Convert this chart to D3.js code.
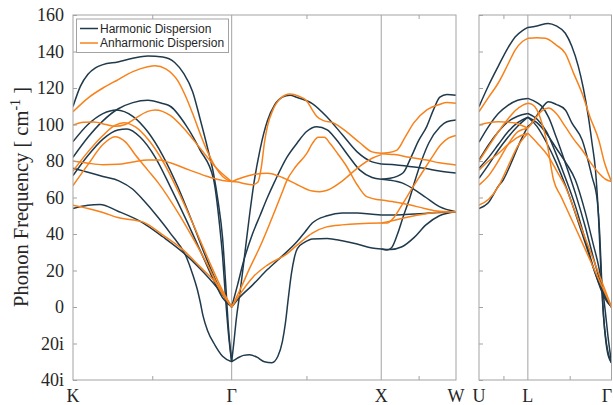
<!DOCTYPE html>
<html><head><meta charset="utf-8">
<script src="https://cdn.jsdelivr.net/npm/d3@7"></script>
<style>body{margin:0;background:#fff}svg{display:block}</style>
</head><body><svg id="c" width="613" height="405"></svg>
<script>
// ---------- tick / label data ----------
const yTicks = [-40,-20,0,20,40,60,80,100,120,140,160];
const yTickLabels = ["40i","20i","0","20","40","60","80","100","120","140","160"];
const leftLabels = ["K","Γ","X","W"];
const leftLabelPos = [0,1.061,2.061,2.561];
const rightLabels = ["U","L","Γ"];
const rightLabelPos = [0,0.506,1.372];
const leftMinorTicks = [0.53,1.561,2.311];
const rightMinorTicks = [0.253,0.939];
const legendNames = ["Harmonic Dispersion","Anharmonic Dispersion"];

// ---------- harmonic bands, K -> Gamma ----------
const harmonicKG = [
 [[0,109.8],[0.05,121],[0.1,127.5],[0.15,131],[0.2,132.8],[0.3,134.3],[0.4,136.3],[0.5,137.5],[0.6,137],[0.68,134],[0.74,128],[0.8,118],[0.85,103],[0.9,87],[0.94,73],[0.97,58],[1.0,38],[1.02,14],[1.04,-12],[1.061,-30]],
 [[0,90.6],[0.1,100],[0.2,106],[0.29,108],[0.4,104.5],[0.5,96],[0.6,83],[0.7,66],[0.8,46],[0.9,25],[1.0,7],[1.061,0]],
 [[0,82],[0.1,93],[0.2,102],[0.3,108.5],[0.4,112],[0.5,113.3],[0.6,111.5],[0.65,110],[0.76,99],[0.85,86],[0.94,70],[0.98,45],[1.0,28],[1.02,5],[1.04,-15],[1.061,-30]],
 [[0,76],[0.1,73.8],[0.2,71.5],[0.31,69],[0.4,64.5],[0.47,58.6],[0.56,50],[0.65,40.5],[0.76,27],[0.8,18],[0.83,10],[0.85,3],[0.87,-5],[0.9,-13],[0.95,-21],[1.0,-27],[1.061,-30]],
 [[0,72],[0.1,83],[0.2,92],[0.3,97],[0.36,97.5],[0.45,93],[0.55,82],[0.65,66],[0.75,49],[0.85,31],[0.95,13],[1.0,5],[1.061,0]],
 [[0,54],[0.1,55.8],[0.18,56.2],[0.3,52.5],[0.47,46],[0.6,38.5],[0.74,29.6],[0.85,21],[0.96,11],[1.061,0]]
];
// ---------- harmonic bands, Gamma -> X ----------
const harmonicGX = [
 [[1.061,-30],[1.075,-20],[1.09,-8],[1.12,10],[1.15,30],[1.18,50],[1.21,68],[1.25,86],[1.3,102],[1.35,111],[1.4,115],[1.45,116],[1.5,114.8],[1.6,111.5],[1.7,104],[1.8,94.5],[1.9,85],[2.0,79.5],[2.061,78.4]],
 [[1.061,-30],[1.1,-28],[1.14,-26.5],[1.18,-26.2],[1.23,-27.5],[1.28,-30],[1.33,-30.5],[1.37,-27],[1.4,-19],[1.42,-9],[1.44,5],[1.46,18],[1.48,27],[1.5,32],[1.55,35.5],[1.6,37.3],[1.7,37.6],[1.8,36.3],[1.9,34.5],[2.0,32.3],[2.061,31.8]],
 [[1.061,0],[1.1,4],[1.2,12],[1.3,20.5],[1.4,28],[1.5,36],[1.55,41],[1.6,46],[1.7,50],[1.8,51.5],[1.9,51.5],[2.0,50.8],[2.061,50.4]],
 [[1.061,0],[1.1,12],[1.137,24],[1.2,40],[1.25,50],[1.3,60],[1.35,69],[1.43,82],[1.5,90],[1.56,96],[1.63,98.8],[1.7,97],[1.763,91.5],[1.84,83],[1.918,75],[2.0,71],[2.061,70]]
];
// ---------- harmonic bands, X -> W ----------
const harmonicXW = [
 [[2.061,78.4],[2.15,78],[2.25,77],[2.35,76],[2.45,74.5],[2.561,73.4]],
 [[2.061,70],[2.12,70.5],[2.206,73.4],[2.26,82],[2.31,91],[2.366,99],[2.41,108],[2.453,115],[2.5,116.5],[2.561,116]],
 [[2.061,31.8],[2.1,31.3],[2.13,32.5],[2.17,40],[2.21,50],[2.253,60],[2.286,69],[2.33,80],[2.38,90],[2.453,98.6],[2.5,101.5],[2.561,102.5]],
 [[2.061,50.4],[2.15,50.4],[2.25,50.8],[2.35,51.3],[2.45,51.8],[2.561,52.2]],
 [[2.061,31.8],[2.12,31.5],[2.2,33],[2.28,38],[2.36,45],[2.45,50],[2.561,52.2]],
 [[2.061,70],[2.12,69.5],[2.2,68],[2.28,64.5],[2.36,60],[2.45,55],[2.561,52.2]]
];
// ---------- anharmonic bands, K -> Gamma ----------
const anharmonicKG = [
 [[0,107],[0.1,114.5],[0.2,120],[0.3,124.5],[0.4,129],[0.5,131.7],[0.55,132.2],[0.62,130.5],[0.7,124],[0.75,116],[0.8,106],[0.85,95],[0.9,85],[0.95,77],[1.0,71.5],[1.061,68.7]],
 [[0,99.7],[0.07,101.3],[0.14,101.4],[0.22,100],[0.28,99],[0.35,100],[0.42,103.5],[0.5,107.2],[0.55,108],[0.65,105],[0.74,98],[0.85,87],[0.96,76],[1.061,68.7]],
 [[0,74.5],[0.1,85],[0.2,94],[0.28,99.5],[0.34,101],[0.42,98.5],[0.5,92],[0.6,80],[0.7,64],[0.8,46],[0.9,27],[1.0,9],[1.061,0]],
 [[0,80],[0.1,78.8],[0.2,78],[0.3,78.2],[0.4,79.5],[0.5,80.5],[0.58,80.5],[0.65,79],[0.78,75],[0.92,71],[1.0,69.3],[1.061,68.7]],
 [[0,66.5],[0.1,78],[0.2,89],[0.28,93.3],[0.35,90.5],[0.42,83],[0.5,75],[0.57,68],[0.7,52],[0.8,38],[0.9,23],[1.0,7],[1.061,0]],
 [[0,55.8],[0.1,54],[0.2,51.8],[0.3,49],[0.47,46.5],[0.6,39.5],[0.74,31],[0.85,22],[0.963,12.5],[1.061,0]]
];
// ---------- anharmonic bands, Gamma -> X ----------
const anharmonicGX = [
 [[1.061,68.7],[1.1,68.5],[1.15,67.5],[1.2,67],[1.237,68.5],[1.26,77],[1.28,90],[1.3,99],[1.337,108],[1.39,114.5],[1.45,116.7],[1.51,115.5],[1.562,113],[1.6,108],[1.629,104.5],[1.68,102],[1.738,101],[1.78,99],[1.83,96],[1.918,90],[2.0,85],[2.061,84.2]],
 [[1.061,68.7],[1.1,70],[1.2,72.5],[1.3,73.3],[1.4,71],[1.5,67],[1.6,63.5],[1.65,63.2],[1.7,64],[1.8,69],[1.9,76],[2.0,81.5],[2.061,83.5]],
 [[1.061,0],[1.12,10],[1.18,21],[1.25,33],[1.317,46],[1.395,62],[1.428,69],[1.49,77],[1.562,84],[1.6,89.5],[1.64,93],[1.68,93],[1.72,89.5],[1.77,84],[1.83,77],[1.9,67],[1.964,60.5],[2.061,58.6]],
 [[1.061,0],[1.1,5],[1.206,16.6],[1.3,23],[1.428,29],[1.5,34],[1.6,40.5],[1.696,43.9],[1.8,45],[2.061,46]]
];
// ---------- anharmonic bands, X -> W ----------
const anharmonicXW = [
 [[2.061,84.2],[2.1,84.5],[2.166,86],[2.22,93],[2.28,101],[2.366,108],[2.45,111],[2.5,112],[2.561,111.7]],
 [[2.061,84],[2.15,83.5],[2.25,82],[2.366,80.5],[2.45,79],[2.561,77.8]],
 [[2.061,58.6],[2.15,57.5],[2.25,56],[2.35,54],[2.45,52.5],[2.561,52.2]],
 [[2.061,46],[2.15,47.5],[2.25,49.5],[2.35,51],[2.45,52],[2.561,52.2]],
 [[2.061,46],[2.1,46],[2.14,48.5],[2.2,56],[2.26,64],[2.33,73],[2.4,82],[2.46,89],[2.51,92.5],[2.561,94]]
];
// ---------- right panel, harmonic U -> L and L -> Gamma ----------
const harmonicUL = [
 [[0,109.8],[0.1,121.5],[0.2,132],[0.3,142],[0.374,148],[0.45,151.5],[0.506,153.2]],
 [[0,90.3],[0.1,99],[0.2,106],[0.3,110.5],[0.4,113.3],[0.506,114.3]],
 [[0,80.5],[0.1,89],[0.2,96],[0.3,101.5],[0.4,104.5],[0.506,106]],
 [[0,76],[0.1,82],[0.2,89],[0.3,96],[0.4,101],[0.506,104]],
 [[0,70.5],[0.1,78],[0.2,86],[0.3,93],[0.4,99],[0.506,104]],
 [[0,54],[0.094,57],[0.198,66],[0.25,69.6],[0.35,81],[0.43,91],[0.506,99]]
];
const harmonicLG = [
 [[0.506,153.2],[0.6,154],[0.717,155.4],[0.8,154],[0.894,150],[0.96,143],[1.029,131.7],[1.08,120],[1.133,104],[1.17,90],[1.206,75],[1.237,50],[1.258,25],[1.279,3],[1.3,-12],[1.331,-25],[1.372,-30.5]],
 [[0.506,99],[0.55,101],[0.6,105],[0.65,109],[0.72,112.5],[0.8,111],[0.894,108],[0.96,101],[1.068,91.5],[1.17,71.4],[1.224,58.6],[1.25,40],[1.27,15],[1.29,-5],[1.32,-20],[1.372,-30.5]],
 [[0.506,114.3],[0.6,112],[0.652,109.8],[0.72,104],[0.8,93],[0.9,78],[1.0,62],[1.1,44],[1.2,24],[1.3,7],[1.372,0]],
 [[0.506,106],[0.6,103],[0.7,96],[0.79,85],[0.9,70],[1.0,55],[1.1,37],[1.2,19],[1.3,5],[1.372,0]],
 [[0.506,104],[0.6,101],[0.7,95],[0.8,87],[0.9,79],[0.998,69.6],[1.1,52],[1.18,35],[1.24,22],[1.28,10],[1.31,-3.5],[1.34,-18],[1.372,-30.5]],
 [[0.506,104],[0.6,99],[0.7,90],[0.8,79],[0.9,66],[1.0,51],[1.1,35],[1.2,19],[1.3,6],[1.372,0]]
];
// ---------- right panel, anharmonic ----------
const anharmonicUL = [
 [[0,107],[0.1,115],[0.198,122.6],[0.3,133],[0.374,140.8],[0.45,145.5],[0.506,147.2]],
 [[0,99.7],[0.1,101],[0.198,101.5],[0.3,101.3],[0.374,100.8],[0.45,99.3],[0.506,98]],
 [[0,80],[0.1,88],[0.2,96],[0.3,103],[0.374,107.5],[0.45,110.5],[0.506,111.6]],
 [[0,75],[0.1,80],[0.198,84],[0.3,89],[0.4,93],[0.506,95.2]],
 [[0,66.8],[0.1,72],[0.2,80],[0.3,89],[0.4,96],[0.506,98]],
 [[0,55.9],[0.1,59],[0.2,66],[0.3,77],[0.4,88],[0.506,95.2]]
];
const anharmonicLG = [
 [[0.506,147.2],[0.6,147.5],[0.686,147.2],[0.8,143.5],[0.894,139],[0.98,128],[1.068,117],[1.15,104],[1.24,91.5],[1.3,79],[1.372,68.7]],
 [[0.506,98],[0.55,101],[0.6,104.5],[0.65,107.5],[0.72,109],[0.8,106],[0.894,98.8],[0.98,92],[1.068,86],[1.15,79.5],[1.24,73.4],[1.31,70],[1.372,68.7]],
 [[0.506,95.2],[0.6,90],[0.72,82.4],[0.8,75],[0.894,66],[1.0,51.4],[1.1,37.6],[1.2,23.8],[1.3,10],[1.372,0]],
 [[0.506,111.6],[0.55,111],[0.6,108],[0.65,101],[0.7,91],[0.772,69.6],[0.85,60.5],[0.95,49],[1.05,37.5],[1.15,25.7],[1.25,14],[1.372,0]]
];

// ---------- drawing ----------
const C_H = "#203a4c", C_A = "#f7821b", C_AX = "#a3a3a3";
const svg = d3.select("#c");
const y = d3.scaleLinear().domain([-40,160]).range([380,15]);
const xL = d3.scaleLinear().domain([0,2.561]).range([73,456]);
const xR = d3.scaleLinear().domain([0,1.372]).range([479,611.5]);

const defs = svg.append("defs");
function clip(id, xs){
  defs.append("clipPath").attr("id",id).append("rect")
    .attr("x",xs.range()[0]).attr("y",y.range()[1])
    .attr("width",xs.range()[1]-xs.range()[0]).attr("height",y.range()[0]-y.range()[1]);
}
clip("cl",xL); clip("cr",xR);

function panel(xs, labels, pos, minor, clipId, hSets, aSets){
  const g = svg.append("g");
  g.selectAll("line.grid").data(pos.slice(1,-1)).join("line")
    .attr("x1",d=>xs(d)).attr("x2",d=>xs(d)).attr("y1",y.range()[1]).attr("y2",y.range()[0])
    .attr("stroke",C_AX).attr("stroke-width",1);
  const line = d3.line().x(d=>xs(d[0])).y(d=>y(d[1])).curve(d3.curveMonotoneX);
  const cg = g.append("g").attr("clip-path",`url(#${clipId})`);
  hSets.forEach(set=>cg.append("g").selectAll("path").data(set).join("path")
    .attr("d",line).attr("fill","none").attr("stroke",C_H).attr("stroke-width",1.5));
  aSets.forEach(set=>cg.append("g").selectAll("path").data(set).join("path")
    .attr("d",line).attr("fill","none").attr("stroke",C_A).attr("stroke-width",1.5));
  g.append("rect").attr("x",xs.range()[0]).attr("y",y.range()[1])
    .attr("width",xs.range()[1]-xs.range()[0]).attr("height",y.range()[0]-y.range()[1])
    .attr("fill","none").attr("stroke",C_AX).attr("stroke-width",1);
  const bt = d3.axisBottom(xs).tickValues(minor).tickSize(-4).tickSizeOuter(0).tickFormat("");
  const tt = d3.axisTop(xs).tickValues(minor).tickSize(-4).tickSizeOuter(0).tickFormat("");
  [[bt,y.range()[0]],[tt,y.range()[1]]].forEach(([ax,ty])=>{
    const a = g.append("g").attr("transform",`translate(0,${ty})`).call(ax);
    a.select(".domain").remove();
    a.selectAll("line").attr("stroke",C_AX);
  });
  g.selectAll("text.pt").data(labels).join("text")
    .attr("x",(d,i)=>Math.min(xs(pos[i]),607)).attr("y",402).attr("text-anchor","middle")
    .attr("font-family","Liberation Serif, Times New Roman, serif").attr("font-size",18)
    .attr("fill","#262626").text(d=>d);
  return g;
}
panel(xL,leftLabels,leftLabelPos,leftMinorTicks,"cl",[harmonicKG,harmonicGX,harmonicXW],[anharmonicKG,anharmonicGX,anharmonicXW]);
panel(xR,rightLabels,rightLabelPos,rightMinorTicks,"cr",[harmonicUL,harmonicLG],[anharmonicUL,anharmonicLG]);

// y axis
const ya = svg.append("g").attr("transform",`translate(${xL.range()[0]},0)`)
  .call(d3.axisLeft(y).tickValues(yTicks).tickFormat((d,i)=>yTickLabels[i]).tickSize(-4).tickSizeOuter(0).tickPadding(9));
ya.select(".domain").remove();
ya.selectAll("line").attr("stroke",C_AX);
ya.selectAll("text").attr("font-family","Liberation Serif, Times New Roman, serif").attr("font-size",18).attr("fill","#262626");
const yr = svg.append("g").attr("transform",`translate(${xR.range()[0]},0)`)
  .call(d3.axisLeft(y).tickValues(yTicks).tickFormat("").tickSize(-4).tickSizeOuter(0));
yr.select(".domain").remove();
yr.selectAll("line").attr("stroke",C_AX);

// y label
const yl = svg.append("text").attr("transform","translate(28,197) rotate(-90)")
  .attr("text-anchor","middle").attr("font-family","Liberation Serif, Times New Roman, serif")
  .attr("font-size",20.5).attr("fill","#262626");
yl.append("tspan").text("Phonon Frequency [ cm");
yl.append("tspan").attr("dy",-8).attr("font-size",14).text("-1");
yl.append("tspan").attr("dy",8).text(" ]");

// legend
const lg = svg.append("g");
lg.append("rect").attr("x",76.5).attr("y",19).attr("width",152).attr("height",33.5)
  .attr("fill","#fff").attr("stroke",C_AX).attr("stroke-width",1);
legendNames.forEach((n,i)=>{
  const yy = 28.5 + i*14.5;
  lg.append("line").attr("x1",80).attr("x2",98).attr("y1",yy).attr("y2",yy)
    .attr("stroke",i?C_A:C_H).attr("stroke-width",1.5);
  lg.append("text").attr("x",100).attr("y",yy+4).attr("font-family","Liberation Sans, Arial, sans-serif")
    .attr("font-size",12).attr("fill","#262626").text(n);
});
</script></body></html>
